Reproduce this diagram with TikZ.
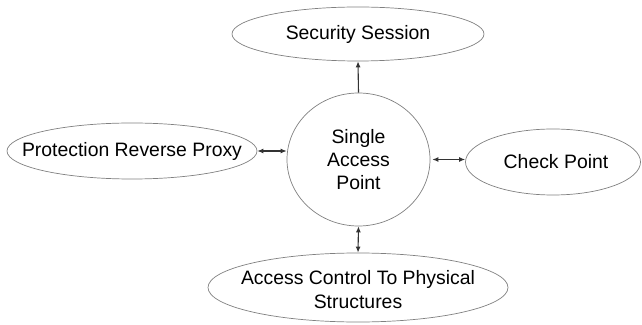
\documentclass[tikz,border=0pt]{standalone}
\usepackage{fontspec}
\setmainfont{Liberation Sans}
\usetikzlibrary{shapes.geometric,arrows.meta}

\tikzset{
  oval/.style={draw=black!50, line width=0.7pt, ellipse, inner sep=0pt, fill=white},
  lbl/.style={align=center, inner sep=0pt, font=\fontsize{19.4}{23.3}\selectfont, text=black},
  link/.style={draw=black!80, line width=1.1pt},
  tip/.style={-{Latex[length=6pt,width=5pt]}},
  tips/.style={{Latex[length=6pt,width=5pt]}-{Latex[length=6pt,width=5pt]}}
}

\begin{document}
\begin{tikzpicture}[x=1pt,y=1pt]
  \useasboundingbox (0,0) rectangle (642,324);

  % outlines
  \node[oval, minimum width=252pt, minimum height=54pt] (sec) at (358,290) {};
  \node[oval, minimum width=143pt, minimum height=133pt] (sap) at (358.5,164.5) {};
  \node[oval, minimum width=250pt, minimum height=56pt] (prp) at (132,173) {};
  \node[oval, minimum width=175pt, minimum height=66pt] (chk) at (553,162) {};
  \node[oval, minimum width=300pt, minimum height=69pt] (phys) at (358,36.5) {};

  % texts
  \node[lbl] (secT) at (sec) {Security Session};
  \node[lbl] (sapT) at (sap) {Single\\Access\\Point};
  \node[lbl] (prpT) at (prp) {Protection Reverse Proxy};
  \node[lbl] (chkT) at ([xshift=3pt]chk.center) {Check Point};
  \node[lbl] (physT) at ([yshift=-2pt]phys.center) {Access Control To Physical\\Structures};

  % connectors
  \draw[link, tip] (sap.north) -- (sec.south);
  \draw[link, tips] (prp.east) -- (prp.east -| sap.west);
  \draw[link, tips, shorten <=2pt] (sap.east) -- (sap.east -| chk.west);
  \draw[link, tips] (sap.south) -- (phys.north);
\end{tikzpicture}
\end{document}
